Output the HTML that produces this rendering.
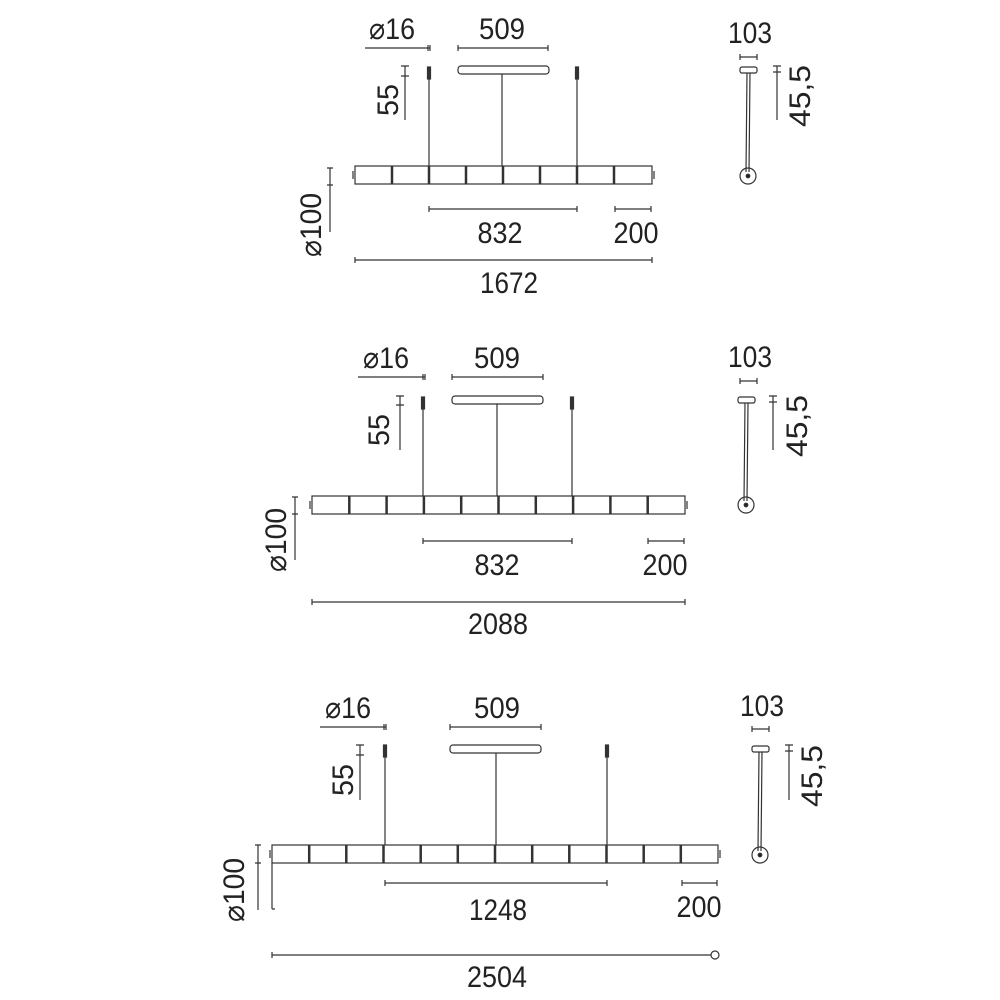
<!DOCTYPE html>
<html><head><meta charset="utf-8"><style>html,body{margin:0;padding:0;background:#fff}svg{display:block}</style></head>
<body>
<svg width="1000" height="1000" viewBox="0 0 1000 1000" xmlns="http://www.w3.org/2000/svg" font-family="Liberation Sans, sans-serif" fill="none" stroke="#333" stroke-width="1.2">
<g fill="#222" stroke="none" font-size="30" text-anchor="middle">
<!-- block 1 -->
<text x="392" y="39" textLength="46" lengthAdjust="spacingAndGlyphs">⌀16</text>
<text x="502" y="39" textLength="46" lengthAdjust="spacingAndGlyphs">509</text>
<text x="500" y="243" textLength="45" lengthAdjust="spacingAndGlyphs">832</text>
<text x="636" y="243" textLength="45" lengthAdjust="spacingAndGlyphs">200</text>
<text x="509" y="293" textLength="58" lengthAdjust="spacingAndGlyphs">1672</text>
<text x="750" y="43" textLength="44" lengthAdjust="spacingAndGlyphs">103</text>
<text x="387" y="111" transform="rotate(-90 387 100)" textLength="32" lengthAdjust="spacingAndGlyphs">55</text>
<text x="310" y="236" transform="rotate(-90 310 225)" textLength="64" lengthAdjust="spacingAndGlyphs">⌀100</text>
<text x="800" y="106" transform="rotate(-90 800 96)" textLength="62" lengthAdjust="spacingAndGlyphs">45,5</text>
<!-- block 2 -->
<text x="386" y="368" textLength="46" lengthAdjust="spacingAndGlyphs">⌀16</text>
<text x="497" y="368" textLength="46" lengthAdjust="spacingAndGlyphs">509</text>
<text x="497" y="575" textLength="45" lengthAdjust="spacingAndGlyphs">832</text>
<text x="665" y="575" textLength="45" lengthAdjust="spacingAndGlyphs">200</text>
<text x="498" y="634" textLength="60" lengthAdjust="spacingAndGlyphs">2088</text>
<text x="750" y="367" textLength="44" lengthAdjust="spacingAndGlyphs">103</text>
<text x="378" y="441" transform="rotate(-90 378 430)" textLength="32" lengthAdjust="spacingAndGlyphs">55</text>
<text x="275" y="551" transform="rotate(-90 275 540)" textLength="64" lengthAdjust="spacingAndGlyphs">⌀100</text>
<text x="797" y="436" transform="rotate(-90 797 426)" textLength="62" lengthAdjust="spacingAndGlyphs">45,5</text>
<!-- block 3 -->
<text x="348" y="718" textLength="46" lengthAdjust="spacingAndGlyphs">⌀16</text>
<text x="497" y="718" textLength="46" lengthAdjust="spacingAndGlyphs">509</text>
<text x="498" y="920" textLength="58" lengthAdjust="spacingAndGlyphs">1248</text>
<text x="699" y="917" textLength="45" lengthAdjust="spacingAndGlyphs">200</text>
<text x="497" y="987" textLength="60" lengthAdjust="spacingAndGlyphs">2504</text>
<text x="762" y="716" textLength="44" lengthAdjust="spacingAndGlyphs">103</text>
<text x="342" y="791" transform="rotate(-90 342 780)" textLength="32" lengthAdjust="spacingAndGlyphs">55</text>
<text x="233" y="901" transform="rotate(-90 233 890)" textLength="64" lengthAdjust="spacingAndGlyphs">⌀100</text>
<text x="812" y="786" transform="rotate(-90 812 776)" textLength="62" lengthAdjust="spacingAndGlyphs">45,5</text>
</g>

<!-- BLOCK 1 -->
<path d="M365 48H430M430 45v6M428 45v6 M458 48H548M458 45v6M548 45v6 M405 66V120M401 66h8M401 76h8 M330 168V232M327 168h6M327 185h6 M429 209H577M429 206v6M577 206v6 M615 209H651M615 206v6M651 206v6 M355 260H652M355 257v6M652 257v6"/>
<rect x="458" y="66" width="91" height="8" rx="3"/>
<line x1="502" y1="74" x2="502" y2="166"/>
<rect x="427.5" y="67" width="3" height="12" fill="#333"/><line x1="429" y1="79" x2="429" y2="166"/>
<rect x="575.5" y="67" width="3" height="12" fill="#333"/><line x1="577" y1="79" x2="577" y2="166"/>
<rect x="355" y="166" width="297" height="18"/>
<path stroke-width="2.5" d="M392 166v18M429 166v18M466 166v18M503 166v18M540 166v18M577 166v18M614 166v18"/>
<path d="M353 171v8M654 171v8"/>
<!-- side 1 -->
<path d="M740 57H757M740 54v6M757 54v6 M777 66V120M773 66h8M773 72h8"/>
<rect x="740" y="67" width="17" height="6" rx="2"/>
<path d="M747 73L746 172M750 73L749 172"/>
<circle cx="748" cy="176" r="8"/><circle cx="748" cy="176" r="1.8" fill="#222"/>

<!-- BLOCK 2 -->
<path d="M358 377H425M425 374v6M423 374v6 M452 377H543M452 374v6M543 374v6 M400 396V450M396 396h8M396 405h8 M295 497V560M292 497h6M292 514h6 M423 541H572M423 538v6M572 538v6 M648 541H684M648 538v6M684 538v6 M312 602H685M312 599v6M685 599v6"/>
<rect x="452" y="396" width="91" height="8" rx="3"/>
<line x1="497" y1="404" x2="497" y2="496"/>
<rect x="421.5" y="397" width="3" height="12" fill="#333"/><line x1="423" y1="409" x2="423" y2="496"/>
<rect x="570.5" y="397" width="3" height="12" fill="#333"/><line x1="572" y1="409" x2="572" y2="496"/>
<rect x="312" y="496" width="373" height="18"/>
<path stroke-width="2.5" d="M349.3 496v18M386.6 496v18M423.9 496v18M461.2 496v18M498.5 496v18M535.8 496v18M573.1 496v18M610.4 496v18M647.7 496v18"/>
<path d="M310 501v8M687 501v8"/>
<path d="M740 381H757M740 378v6M757 378v6 M773 396V450M769 396h8M769 402h8"/>
<rect x="738" y="397" width="17" height="6" rx="2"/>
<path d="M745 403L744 501M748 403L747 501"/>
<circle cx="746" cy="505" r="8"/><circle cx="746" cy="505" r="1.8" fill="#222"/>

<!-- BLOCK 3 -->
<path d="M320 727H386M386 724v6M384 724v6 M450 727H541M450 724v6M541 724v6 M360 745V800M356 745h8M356 755h8 M258 845V910M255 845h6M255 863h6 M385 883H607M385 880v6M607 880v6 M682 883H717M682 880v6M717 880v6 M272 955H711M272 952v6 M272 863V909M272 909h3"/>
<circle cx="715" cy="955" r="4"/>
<rect x="450" y="745" width="91" height="8" rx="3"/>
<line x1="496" y1="753" x2="496" y2="845"/>
<rect x="383.5" y="745" width="3" height="12" fill="#333"/><line x1="385" y1="757" x2="385" y2="845"/>
<rect x="605.5" y="745" width="3" height="12" fill="#333"/><line x1="607" y1="757" x2="607" y2="845"/>
<rect x="272" y="845" width="446" height="18"/>
<path stroke-width="2.5" d="M309.2 845v18M346.3 845v18M383.5 845v18M420.7 845v18M457.8 845v18M495 845v18M532.2 845v18M569.3 845v18M606.5 845v18M643.7 845v18M680.8 845v18"/>
<path d="M270 850v8M720 850v8"/>
<path d="M752 729H769M752 726v6M769 726v6 M789 745V800M785 745h8M785 751h8"/>
<rect x="752" y="746" width="17" height="6" rx="2"/>
<path d="M759 752L758 851M762 752L761 851"/>
<circle cx="760" cy="855" r="8"/><circle cx="760" cy="855" r="1.8" fill="#222"/>
</svg>
</body></html>
